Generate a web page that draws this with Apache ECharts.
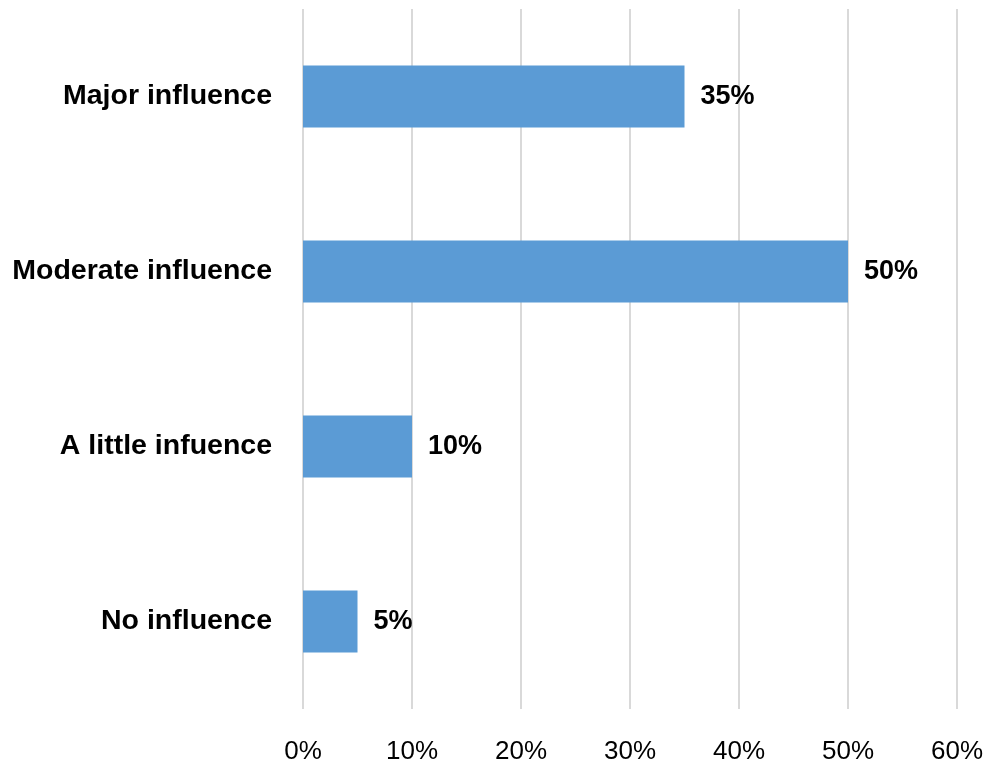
<!DOCTYPE html>
<html>
<head>
<meta charset="utf-8">
<script src="https://cdn.jsdelivr.net/npm/echarts@6/dist/echarts.min.js"></script>
<style>
html,body{margin:0;padding:0;background:#fff;}
#chart{width:989px;height:765px;}
</style>
</head>
<body>
<div id="chart"></div>
<script>
const categories = ['Major influence', 'Moderate influence', 'A little infuence', 'No influence'];
const values = [35, 50, 10, 5];
const xTicks = { min: 0, max: 60, interval: 10 };

const chart = echarts.init(document.getElementById('chart'), null, { renderer: 'canvas' });
chart.setOption({
  animation: false,
  backgroundColor: '#ffffff',
  grid: { left: 303, right: 32, top: 9, bottom: 56, containLabel: false },
  xAxis: {
    type: 'value',
    min: xTicks.min, max: xTicks.max, interval: xTicks.interval,
    axisLine: { show: false },
    axisTick: { show: false },
    splitLine: { show: true, lineStyle: { color: '#d9d9d9', width: 2 } },
    axisLabel: {
      formatter: '{value}%',
      fontFamily: 'Liberation Sans',
      fontSize: 26,
      color: '#000',
      margin: 30
    }
  },
  yAxis: {
    type: 'category',
    inverse: true,
    data: categories,
    axisLine: { show: false },
    axisTick: { show: false },
    splitLine: { show: false },
    axisLabel: {
      fontFamily: 'Liberation Sans',
      fontWeight: 'bold',
      fontSize: 28.5,
      color: '#000',
      margin: 31,
      padding: [6, 0, 0, 0]
    }
  },
  series: [{
    type: 'bar',
    data: values,
    barWidth: 62,
    itemStyle: { color: '#5b9bd5' },
    label: {
      show: true,
      position: 'right',
      distance: 16,
      formatter: '{c}%',
      fontFamily: 'Liberation Sans',
      fontWeight: 'bold',
      fontSize: 27,
      color: '#000',
      padding: [6, 0, 0, 0]
    }
  }]
});
</script>
</body>
</html>
